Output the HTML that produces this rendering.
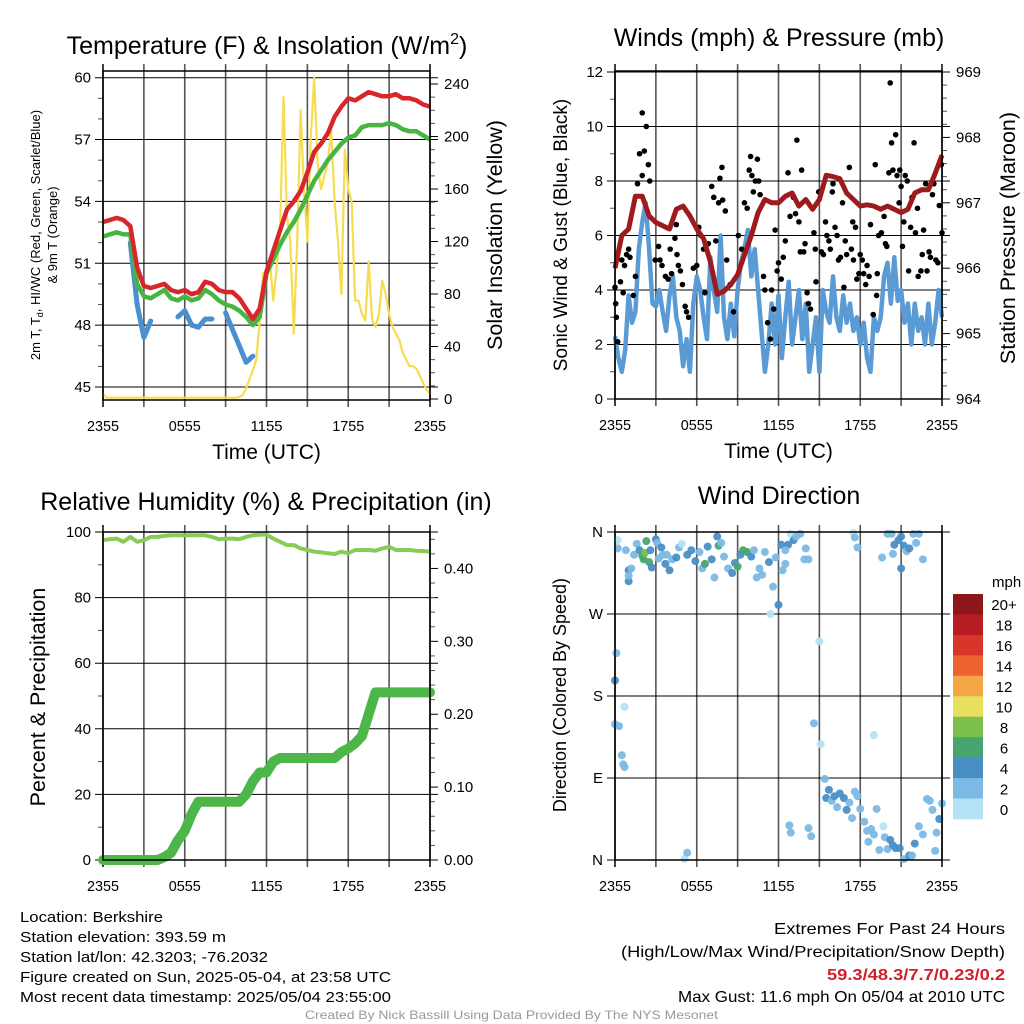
<!DOCTYPE html>
<html><head><meta charset="utf-8"><style>
html,body{margin:0;padding:0;background:#fff;}
svg{display:block;font-family:"Liberation Sans",Arial,sans-serif;}
</style></head><body>
<svg id="fig" width="1024" height="1024" viewBox="0 0 1024 1024" xmlns="http://www.w3.org/2000/svg">
<rect width="1024" height="1024" fill="#fff"/>
<g id="p1"></g>
<g id="p2"></g>
<g id="p3"></g>
<g id="p4"></g>
<g font-size="15">
<text x="20" y="922" textLength="143" lengthAdjust="spacingAndGlyphs">Location: Berkshire</text>
<text x="20" y="942" textLength="206" lengthAdjust="spacingAndGlyphs">Station elevation: 393.59 m</text>
<text x="20" y="962" textLength="248" lengthAdjust="spacingAndGlyphs">Station lat/lon: 42.3203; -76.2032</text>
<text x="20" y="982" textLength="371" lengthAdjust="spacingAndGlyphs">Figure created on Sun, 2025-05-04, at 23:58 UTC</text>
<text x="20" y="1002" textLength="371" lengthAdjust="spacingAndGlyphs">Most recent data timestamp: 2025/05/04 23:55:00</text>
</g>
<g font-size="16">
<text x="774" y="934" textLength="231" lengthAdjust="spacingAndGlyphs">Extremes For Past 24 Hours</text>
<text x="621" y="957" textLength="384" lengthAdjust="spacingAndGlyphs">(High/Low/Max Wind/Precipitation/Snow Depth)</text>
<text x="827" y="980" textLength="178" lengthAdjust="spacingAndGlyphs" fill="#d0202a" font-weight="bold">59.3/48.3/7.7/0.23/0.2</text>
<text x="678" y="1002" textLength="327" lengthAdjust="spacingAndGlyphs">Max Gust: 11.6 mph On 05/04 at 2010 UTC</text>
</g>
<text x="305" y="1019" font-size="12" fill="#999" textLength="413" lengthAdjust="spacingAndGlyphs">Created By Nick Bassill Using Data Provided By The NYS Mesonet</text>
</svg>
<script>
// ---------- DATA ----------
const tickLabels = ["2355","0555","1155","1755","2355"];
// half-hour series (t = 0..24 step 0.5)
const tempRed = [53.0,53.1,53.2,53.1,52.8,50.8,49.9,49.8,49.9,50.0,49.7,49.6,49.7,49.5,49.6,50.1,50.0,49.7,49.6,49.6,49.3,48.8,48.3,48.8,50.6,51.6,52.6,53.6,54.0,54.5,55.4,56.4,56.8,57.3,58.1,58.6,59.0,58.9,59.1,59.3,59.2,59.1,59.1,59.2,59.0,59.0,58.9,58.7,58.6];
const tempGreen = [52.3,52.4,52.5,52.4,52.4,50.0,49.4,49.3,49.5,49.7,49.3,49.2,49.4,49.2,49.3,49.7,49.5,49.2,49.0,48.9,48.7,48.4,48.0,48.4,50.5,51.2,51.9,52.5,53.0,53.6,54.3,55.0,55.5,56.0,56.4,56.8,57.1,57.2,57.6,57.7,57.7,57.7,57.8,57.7,57.5,57.4,57.4,57.2,57.0];
const tempBlue = [null,null,null,null,52.0,49.0,47.4,48.2,null,48.6,null,48.4,48.7,48.0,47.9,48.3,48.3,null,48.6,47.8,47.0,46.2,46.5,null,null,null,null,null,null,null,null,null,null,null,null,null,null,null,null,null,null,null,null,null,null,null,null,null,null];
// quarter-hour insolation (t = 0..24 step 0.25)
const insolation = [4,1,1,1,1,1,1,1,1,1,1,1,1,1,1,1,1,1,1,1,1,1,1,1,1,1,1,1,1,1,1,1,1,1,1,1,1,1,1,1,1.5,3,8,15,22,30,60,96,90,105,75,100,130,230,140,120,50,120,220,160,120,200,245,180,160,170,180,205,150,120,80,190,160,150,75,75,65,60,105,60,55,65,90,80,65,55,50,45,35,30,25,25,23,18,12,7,4];
const windSpeed = [2.3,1.5,1.0,1.8,3.8,2.8,3.2,5.5,6.5,7.2,5.5,3.5,3.4,4.0,3.2,2.5,3.8,4.5,3.0,2.5,1.2,2.2,1.0,3.5,4.5,4.0,3.0,2.2,5.2,4.0,3.2,6.0,3.0,2.2,3.5,2.3,4.0,5.0,5.5,6.2,4.5,5.5,4.0,2.5,1.0,2.0,3.5,2.0,3.8,1.5,3.0,4.3,2.0,3.0,4.0,2.2,3.5,1.0,2.0,3.0,1.0,4.0,3.2,2.8,4.5,3.0,2.5,3.8,2.8,3.5,2.5,3.0,2.0,2.8,1.5,1.0,3.0,2.5,3.0,4.5,5.0,3.5,5.2,3.6,4.0,2.8,3.5,2.0,3.5,2.5,3.0,2.0,3.5,2.0,2.8,4.0,3.0];
const pressure = [966.0,966.5,966.6,967.1,967.1,966.8,966.7,966.65,966.6,966.9,966.95,966.8,966.6,966.45,966.1,965.6,965.65,965.75,965.9,966.2,966.5,966.85,967.05,967.0,967.0,967.1,967.15,966.95,967.05,966.9,967.05,967.42,967.4,967.37,967.15,967.05,966.95,966.97,966.95,966.9,966.95,966.9,966.85,966.9,967.15,967.2,967.2,967.45,967.73];
const gustTime = [0,0.05,0.1,0.2,0.4,0.5,0.6,0.7,0.85,1.0,1.1,1.35,1.5,1.65,1.8,2.0,2.15,2.3,2.45,2.55,2.0,2.95,3.2,3.3,3.45,3.7,3.9,4.05,4.15,4.4,4.55,4.65,4.8,4.95,4.5,5.15,5.25,5.4,5.75,6.0,6.15,6.3,6.5,6.6,6.85,7.1,7.25,7.4,7.6,7.7,7.85,7.9,8.1,8.2,8.45,8.7,9.05,9.3,9.5,9.7,9.85,9.95,10.05,10.15,10.3,10.45,10.55,10.65,10.9,11.0,11.2,11.4,11.5,11.65,11.75,11.9,12.0,12.2,12.35,12.5,12.7,12.85,13.1,13.25,13.35,13.5,13.6,13.7,13.85,13.95,14.1,14.2,14.35,14.6,14.7,14.75,14.95,15.15,15.3,15.45,15.55,15.7,15.8,15.95,16.0,16.15,16.3,16.4,16.55,16.7,16.8,16.9,17.0,17.2,17.35,17.45,17.5,17.65,17.75,17.9,18.0,18.15,18.25,18.4,18.5,18.65,18.75,18.95,19.1,19.2,19.25,19.35,19.55,19.75,19.85,19.95,20.1,20.2,20.3,20.4,20.6,20.7,20.85,20.9,21.0,21.1,21.2,21.3,21.45,21.55,21.7,21.8,21.95,22.05,22.2,22.25,22.45,22.55,22.65,22.8,22.9,23.05,23.15,23.3,23.4,23.55,23.7,23.8,23.95,24.0];
const gustSpeed = [4.1,3.5,3.0,2.1,4.3,5.1,3.9,4.9,5.3,5.5,5.2,3.8,4.5,7.9,9.0,10.5,9.1,10.0,8.6,8.0,8.2,5.1,5.6,5.1,4.9,4.5,4.4,5.5,4.6,5.9,5.3,4.9,4.7,4.2,6.4,3.4,3.2,3.0,4.8,4.9,6.3,6.0,5.5,3.9,5.7,7.8,7.4,5.8,7.2,8.1,8.5,7.3,6.9,5.1,4.2,3.2,6.0,5.5,7.2,7.0,8.4,8.9,8.2,7.6,8.0,8.8,8.0,7.5,4.5,4.0,2.8,2.2,4.0,3.3,6.2,4.7,5.0,4.4,5.2,5.8,8.3,6.7,7.4,6.8,9.5,6.5,5.4,8.4,5.4,5.7,3.9,3.5,3.3,6.1,5.5,4.3,7.6,5.4,5.3,6.5,6.0,5.8,5.5,7.6,7.9,6.3,6.0,5.1,5.2,7.2,4.1,5.8,5.3,8.5,5.5,6.5,5.1,6.3,4.4,4.6,5.3,5.1,4.6,4.2,4.9,4.5,6.4,3.1,8.6,3.8,4.6,6.0,6.1,6.7,5.7,5.6,8.3,11.6,9.4,8.4,9.7,8.2,7.2,8.4,7.8,5.6,6.5,8.2,8.0,4.7,6.3,7.4,9.4,6.1,7.0,4.5,4.7,5.3,6.2,7.9,4.7,5.4,5.2,7.5,7.9,5.1,5.0,7.1,8.6,6.1];
const rhValues = [97.5,97.8,98,97,98.5,97,97.5,98.5,98.5,98.8,99,99,99,99,99,99,98.5,97.8,98,98,97.8,98.5,99,99.2,99.2,98,97,96,96,95,94.5,94,93.8,93.5,93.3,94,93.5,94.5,94.5,94.5,94.3,95,95.5,94.5,94.5,94.5,94.3,94.2,94];
const precipIn = [0,0,0,0,0,0,0,0,0,0.004,0.01,0.027,0.04,0.063,0.08,0.08,0.08,0.08,0.08,0.08,0.08,0.09,0.108,0.12,0.12,0.135,0.14,0.14,0.14,0.14,0.14,0.14,0.14,0.14,0.14,0.148,0.153,0.16,0.17,0.2,0.23,0.23,0.23,0.23,0.23,0.23,0.23,0.23,0.23];
const dirTime = [0.2,0.2,0.8,1.0,1.0,1.2,1.4,1.6,1.8,2.0,2.1,2.2,2.3,2.5,2.6,2.7,3.0,3.1,3.2,3.4,3.5,3.7,3.8,4.0,4.2,4.5,4.7,4.9,5.3,5.6,5.9,6.2,6.4,6.6,6.8,7.1,7.3,7.5,7.6,7.8,8.0,8.3,8.6,8.8,9.0,9.2,9.4,9.7,10.0,10.2,10.4,10.6,10.8,11.0,11.3,11.6,11.8,12.0,12.2,12.5,12.7,12.9,13.1,13.3,13.6,14.0,14.2,13.9,11.4,15.0,14.6,15.1,15.4,15.5,15.7,15.9,16.1,16.3,16.5,16.8,17.0,17.2,17.4,17.6,17.8,18.0,18.3,18.5,18.6,18.8,19.0,19.2,19.4,19.0,19.7,19.8,20.0,20.2,20.4,20.6,20.9,21.2,21.6,21.8,22.0,22.3,22.6,22.9,23.1,23.3,23.6,23.8,24.0,23.5,14.2,14.4,12.8,12.9,5.1,5.3,0.0,0.1,0.3,0.0,0.5,0.6,0.7,0.7,17.5,17.6,17.8,20.0,20.3,20.5,20.8,21.0,21.2,21.4,21.0,21.6,21.9,22.3,22.6,20.4,19.6,22.1,12.5,12.3,1.0];
const dirDeg = [351,342,340,318,306,320,335,347,340,334,330,337,350,327,340,321,352,348,331,343,335,325,335,318,330,332,343,347,335,340,328,338,320,325,344,330,310,355,345,348,333,320,315,326,322,335,340,338,333,340,310,320,313,338,327,300,332,280,346,325,346,358,351,355,358,342,330,330,270,240,150,127,89,68,77,65,70,58,73,68,55,63,46,75,70,56,42,32,20,34,28,56,11,137,37,25,12,22,16,13,13,1,5,5,18,37,28,67,65,55,30,45,62,10,35,26,38,30,1,8,197,227,147,149,115,105,102,168,359,354,343,358,358,346,351,355,345,339,320,342,358,358,330,336,332,348,340,318,312];
const dirSpeed = [1,2,2,4,4,3,3,3,5,6,7,8,7,7,4,4,4,3,3,4,2,4,3,4,3,4,2,1,4,5,4,2,3,6,4,4,2,4,7,2,3,2,4,4,7,5,6,7,4,3,2,2,3,2,4,3,2,4,4,2,4,1,4,3,2,2,2,3,1,1,3,1,2,5,4,3,4,3,4,4,4,3,3,2,3,3,2,2,3,2,2,2,2,1,1,2,2,4,4,4,4,3,4,2,4,2,2,2,3,3,2,4,3,2,2,2,2,2,1,2,4,3,2,3,3,2,2,1,1,2,2,3,3,4,4,4,4,3,4,4,2,2,2,3,2,2,3,2,3];
const cbLabels = ["20+","18","16","14","12","10","8","6","4","2","0"];
const cbColors = ["#8c1619","#b71c22","#d8352b","#ee6430","#f5a748","#e6e05c","#7cc04b","#48a56f","#4a8ec6","#7cb9e4","#b5e2f7"];

// ---------- HELPERS ----------
const NS="http://www.w3.org/2000/svg";
function el(parent,tag,attrs,text){const e=document.createElementNS(NS,tag);for(const k in attrs)e.setAttribute(k,attrs[k]);if(text!==undefined)e.textContent=text;parent.appendChild(e);return e;}
function lin(d0,d1,r0,r1){return v=>r0+(v-d0)*(r1-r0)/(d1-d0);}
function pathFrom(ts,vs,sx,sy){let d="",pen=false;for(let i=0;i<vs.length;i++){if(vs[i]===null||vs[i]===undefined){pen=false;continue;}d+=(pen?"L":"M")+sx(ts[i]).toFixed(1)+" "+sy(vs[i]).toFixed(1);pen=true;}return d;}
function seq(n,step){const a=[];for(let i=0;i<n;i++)a.push(i*step);return a;}
const tHalf=seq(49,0.5), tQuarter=seq(97,0.25);

function frame(g,L,R,T,B,opt){
  const sx=lin(0,24,L,R);
  for(let h=0;h<=24;h+=3){const x=sx(h);
    const v=el(g,"line",{x1:x,x2:x,y1:T-7,y2:B+7,stroke:(h===0||h===24)?"#000":"#555","stroke-width":(h===0||h===24)?1.5:1.6});
    
    
  }
  tickLabels.forEach((lb,i)=>{const t=el(g,"text",{x:sx(i*6),y:B+31,"font-size":15,"text-anchor":"middle",textLength:32,lengthAdjust:"spacingAndGlyphs"},lb);
    
    });
  if(opt.xtitle){const t=el(g,"text",{x:(L+R)/2,y:B+59,"font-size":21,"text-anchor":"middle"},"Time (UTC)");
    
    }
  return sx;
}
function yAxis(g,L,R,sy,ticks,labels,minor,side,fs){
  ticks.forEach((v,i)=>{const y=sy(v);
    const ln=el(g,"line",{x1:L-8,x2:R+8,y1:y,y2:y,stroke:"#000","stroke-width":1});
    
    
    const t=el(g,"text",{x:L-12,y:y+5,"font-size":fs||15,"text-anchor":"end"},labels[i]);
    
    });
  minor.forEach(v=>{const y=sy(v);el(g,"line",{x1:L-5,x2:L,y1:y,y2:y,stroke:"#555","stroke-width":1});});
}
function rAxis(g,R,sy,ticks,labels,minor){
  ticks.forEach((v,i)=>{const y=sy(v);
    el(g,"line",{x1:R,x2:R+8,y1:y,y2:y,stroke:"#000","stroke-width":1});
    const t=el(g,"text",{x:R+14,y:y+5,"font-size":15},labels[i]);
    
    });
  minor.forEach(v=>{const y=sy(v);el(g,"line",{x1:R,x2:R+5,y1:y,y2:y,stroke:"#555","stroke-width":1});});
}
function title(g,x,y,txt,name){const t=el(g,"text",{x:x,y:y,"font-size":25,"text-anchor":"middle"},txt);return t;}
function vtitle(g,x,y,txt,fs,name){const t=el(g,"text",{x:x,y:y,"font-size":fs,"text-anchor":"middle",transform:`rotate(-90 ${x} ${y})`},txt);return t;}
function border(g,L,R,T,B){el(g,"rect",{x:L,y:T,width:R-L,height:B-T,fill:"none",stroke:"#000","stroke-width":1.5});}

// ---------- PANEL 1 ----------
(function(){
  const g=document.getElementById("p1"),L=103,R=430,T=71,B=400;
  const t=title(g,267,54,"Temperature (F) & Insolation (W/m",'panel-title');
  el(t,"tspan",{dy:-10,"font-size":16},"2");
  el(t,"tspan",{dy:10},")");
  const sx=frame(g,L,R,T,B,{xtitle:true});
  const sy=lin(45,60,387,77.7), sr=lin(0,240,399,84);
  yAxis(g,L,R,sy,[45,48,51,54,57,60],["45","48","51","54","57","60"],[46,47,49,50,52,53,55,56,58,59]);
  const mt=[];for(let v=10;v<250;v+=10)if(v%40)mt.push(v);
  rAxis(g,R,sr,[0,40,80,120,160,200,240],["0","40","80","120","160","200","240"],mt);
  const lt=el(g,"text",{x:40,y:235,"font-size":13,"text-anchor":"middle",transform:"rotate(-90 40 235)"},"2m T, T");
  el(lt,"tspan",{dy:3,"font-size":9},"d");
  el(lt,"tspan",{dy:-3},", HI/WC (Red, Green, Scarlet/Blue)");
  
  
  vtitle(g,57,235,"& 9m T (Orange)",13,'y-axis-title-line2');
  vtitle(g,502,235,"Solar Insolation (Yellow)",21.5,'right-axis-title');
  const ins=el(g,"path",{d:pathFrom(tQuarter,insolation,sx,sr),fill:"none",stroke:"#f7dc4f","stroke-width":2.2,"stroke-linejoin":"round"});
  
  
  const bl=el(g,"path",{d:pathFrom(tHalf,tempBlue,sx,sy),fill:"none",stroke:"#4a90cf","stroke-width":5,"stroke-linecap":"round","stroke-linejoin":"round"});
  
  
  const gr=el(g,"path",{d:pathFrom(tHalf,tempGreen,sx,sy),fill:"none",stroke:"#47b542","stroke-width":4.5,"stroke-linejoin":"round"});
  
  
  const rd=el(g,"path",{d:pathFrom(tHalf,tempRed,sx,sy),fill:"none",stroke:"#d8262b","stroke-width":4.5,"stroke-linejoin":"round"});
  
  
  border(g,L,R,T,B);
})();

// ---------- PANEL 2 ----------
(function(){
  const g=document.getElementById("p2"),L=615,R=942,T=71,B=399;
  title(g,779,46,"Winds (mph) & Pressure (mb)",'panel-title');
  const sx=frame(g,L,R,T,B,{xtitle:true});
  const sy=lin(0,12,399,72), sp=lin(964,969,399,72);
  yAxis(g,L,R,sy,[0,2,4,6,8,10,12],["0","2","4","6","8","10","12"],[1,3,5,7,9,11]);
  const mp=[];for(let v=964.2;v<969;v+=0.2){if(Math.abs(v-Math.round(v))>0.05)mp.push(v);}
  rAxis(g,R,sp,[964,965,966,967,968,969],["964","965","966","967","968","969"],mp);
  vtitle(g,567,235,"Sonic Wind & Gust (Blue, Black)",19,'y-axis-title');
  vtitle(g,1015,238,"Station Pressure (Maroon)",21.5,'right-axis-title');
  const w=el(g,"path",{d:pathFrom(tQuarter,windSpeed,sx,sy),fill:"none",stroke:"#5b9bd5","stroke-width":4.5,"stroke-linejoin":"round"});
  
  
  gustTime.forEach((t,i)=>{const c=el(g,"circle",{cx:sx(t),cy:sy(gustSpeed[i]),r:2.8,fill:"#000"});
    
    });
  const p=el(g,"path",{d:pathFrom(tHalf,pressure,sx,sp),fill:"none",stroke:"#9e1b1d","stroke-width":5,"stroke-linejoin":"round"});
  
  
  border(g,L,R,T,B);
})();

// ---------- PANEL 3 ----------
(function(){
  const g=document.getElementById("p3"),L=103,R=430,T=532,B=860;
  title(g,266,510,"Relative Humidity (%) & Precipitation (in)",'panel-title');
  const sx=frame(g,L,R,T,B,{xtitle:false});
  const sy=lin(0,100,860,532), sr=lin(0,0.45,860,532);
  yAxis(g,L,R,sy,[0,20,40,60,80,100],["0","20","40","60","80","100"],[10,30,50,70,90]);
  const mr=[];for(let v=0.02;v<0.45;v+=0.02){if(Math.abs(v*10-Math.round(v*10))>0.05)mr.push(v);}
  rAxis(g,R,sr,[0,0.1,0.2,0.3,0.4],["0.00","0.10","0.20","0.30","0.40"],mr);
  vtitle(g,45,697,"Percent & Precipitation",21.5,'y-axis-title');
  const rh=el(g,"path",{d:pathFrom(tHalf,rhValues,sx,sy),fill:"none",stroke:"#8acb57","stroke-width":4,"stroke-linejoin":"round"});
  
  
  const pr=el(g,"path",{d:pathFrom(tHalf,precipIn,sx,sr),fill:"none",stroke:"#4cb748","stroke-width":10,"stroke-linejoin":"round","stroke-linecap":"round"});
  
  
  border(g,L,R,T,B);
})();

// ---------- PANEL 4 ----------
(function(){
  const g=document.getElementById("p4"),L=615,R=942,T=532,B=860;
  title(g,779,504,"Wind Direction",'panel-title');
  const sx=frame(g,L,R,T,B,{xtitle:false});
  const sy=lin(0,360,860,532);
  yAxis(g,L,R,sy,[0,90,180,270,360],["N","E","S","W","N"],[],null,15);
  vtitle(g,566,695,"Direction (Colored By Speed)",18,'y-axis-title');
  function col(s){let i=Math.min(10,Math.floor(s/2));return cbColors[10-i];}
  dirTime.forEach((t,i)=>{const c=el(g,"circle",{cx:sx(t),cy:sy(dirDeg[i]),r:4,fill:col(dirSpeed[i]),opacity:0.95});
    
    });
  border(g,L,R,T,B);
  const cb=el(g,"g",{});
  
  
  const h=(819-594)/11;
  cbColors.forEach((c,i)=>{el(cb,"rect",{x:953,y:594+i*h,width:30,height:h+0.3,fill:c});
    const t=el(cb,"text",{x:1004,y:594+i*h+h/2+6,"font-size":15,"text-anchor":"middle"},cbLabels[i]);
    
    });
  const u=el(cb,"text",{x:992,y:587,"font-size":15},"mph");
  
  
})();
</script>
</body></html>
